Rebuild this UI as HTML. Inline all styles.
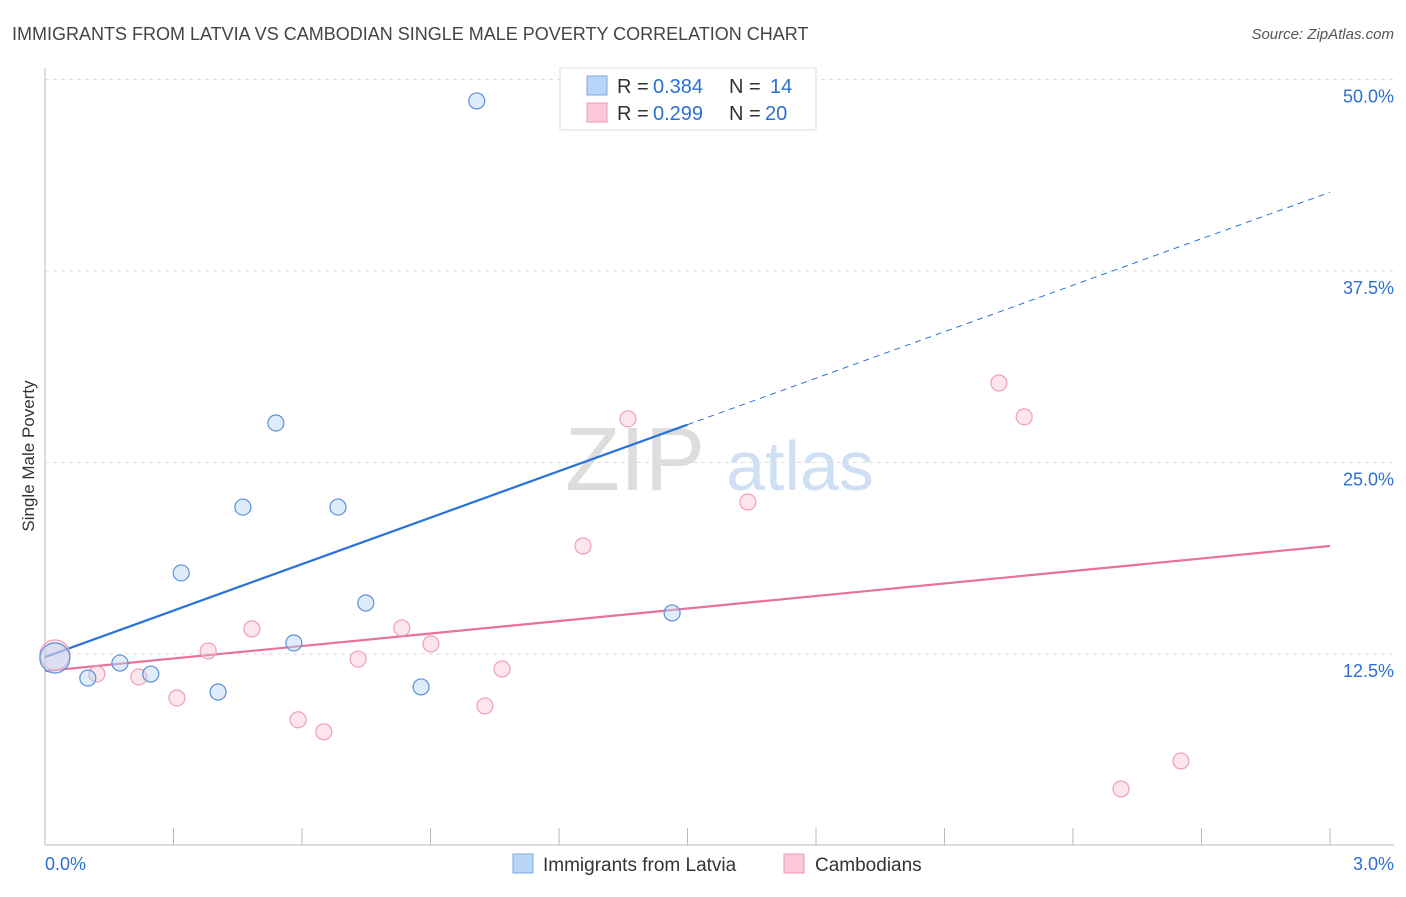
<!DOCTYPE html>
<html><head><meta charset="utf-8"><style>
body{margin:0;background:#fff;font-family:"Liberation Sans",sans-serif}
svg text{font-family:"Liberation Sans",sans-serif}
</style></head><body>
<svg id="c" width="1406" height="892">
<text x="12" y="40" font-size="18" fill="#444">IMMIGRANTS FROM LATVIA VS CAMBODIAN SINGLE MALE POVERTY CORRELATION CHART</text>
<text x="1394" y="39" font-size="15" fill="#555" text-anchor="end" font-style="italic">Source: ZipAtlas.com</text>
<text x="34" y="456" font-size="17" fill="#333" text-anchor="middle" transform="rotate(-90 34 456)">Single Male Poverty</text>
<text x="635" y="490" font-size="90" fill="#ddd" font-family="Liberation Serif" text-anchor="middle">ZIP</text>
<text x="800" y="490" font-size="70" fill="#cfe0f5" text-anchor="middle">atlas</text>
<g id="grid"></g><g id="lines"></g><g id="pts"></g>
<g>
<rect x="560" y="68" width="256" height="62" fill="#fff" stroke="#ddd"/>
<rect x="587" y="76" width="20" height="19" fill="#b8d4f7" stroke="#7aa8e6"/>
<rect x="587" y="103" width="20" height="19" fill="#fac8d6" stroke="#ee9ab3"/>
<text x="617" y="93" font-size="20" fill="#333">R =</text>
<text x="653" y="93" font-size="20" fill="#2c6fd3">0.384</text>
<text x="729" y="93" font-size="20" fill="#333">N =</text>
<text x="770" y="93" font-size="20" fill="#2c6fd3">14</text>
<text x="617" y="120" font-size="20" fill="#333">R =</text>
<text x="653" y="120" font-size="20" fill="#2c6fd3">0.299</text>
<text x="729" y="120" font-size="20" fill="#333">N =</text>
<text x="765" y="120" font-size="20" fill="#2c6fd3">20</text>
</g>
<g>
<rect x="513" y="854" width="20" height="19" fill="#b8d4f7" stroke="#7aa8e6"/>
<text x="543" y="871" font-size="19" fill="#333">Immigrants from Latvia</text>
<rect x="784" y="854" width="20" height="19" fill="#fac8d6" stroke="#ee9ab3"/>
<text x="815" y="871" font-size="19" fill="#333">Cambodians</text>
</g>
<text x="45" y="870" font-size="18" fill="#2c6fd3">0.0%</text>
<text x="1394" y="870" font-size="18" fill="#2c6fd3" text-anchor="end">3.0%</text>
</svg>
<script>
const yTicks=[12.5,25,37.5,50];
const yTickLabels=["12.5%","25.0%","37.5%","50.0%"];
const latviaX=[0.023,0.100,0.175,0.247,0.318,0.404,0.462,0.539,0.581,0.684,0.749,0.878,1.008,1.464];
const latviaY=[12.24,10.93,11.91,11.19,17.79,10.02,22.09,27.58,13.22,22.09,15.83,10.35,48.6,15.18];
const cambX=[0.023,0.121,0.219,0.308,0.381,0.483,0.591,0.651,0.731,0.833,0.901,1.027,1.067,1.256,1.361,1.641,2.227,2.286,2.512,2.652];
const cambY=[12.44,11.19,11.00,9.63,12.70,14.14,8.21,7.42,12.17,14.20,13.16,9.11,11.52,19.55,27.85,22.42,30.19,27.98,3.69,5.52];
const latviaTrend=[12.30,42.64];
const cambTrend=[11.39,19.55];
const NS="http://www.w3.org/2000/svg";
const X=v=>45+v/3*1285, Y=v=>845.5-v/12.5*191.5;
function mk(p,t,a){const e=document.createElementNS(NS,t);for(const k in a)e.setAttribute(k,a[k]);document.getElementById(p).appendChild(e);return e;}
yTicks.forEach((t,i)=>{
 const l=mk('grid','line',{x1:45,x2:1394,y1:Y(t),y2:Y(t),stroke:'#ddd','stroke-dasharray':'4,4'});
 
 
 const tx=mk('grid','text',{x:1394,y:Y(t)+23,'font-size':18,fill:'#2c6fd3','text-anchor':'end'});tx.textContent=yTickLabels[i];
 
 
});
const ax=mk('grid','line',{x1:45,x2:1394,y1:845,y2:845,stroke:'#bbb'});


const ay=mk('grid','line',{x1:45,x2:45,y1:68,y2:845,stroke:'#bbb'});


for(let i=1;i<=10;i++){const t=mk('grid','line',{x1:X(i*0.3),x2:X(i*0.3),y1:828,y2:845,stroke:'#bbb'});
 
 }
const mid=1.5, bm=latviaTrend[0]+(latviaTrend[1]-latviaTrend[0])*mid/3;
let l1=mk('lines','line',{x1:X(0),y1:Y(latviaTrend[0]),x2:X(mid),y2:Y(bm),stroke:'#2a72d8','stroke-width':2.2});


let l2=mk('lines','line',{x1:X(mid),y1:Y(bm),x2:X(3),y2:Y(latviaTrend[1]),stroke:'#2a72d8','stroke-width':1,'stroke-dasharray':'6,5'});


let l3=mk('lines','line',{x1:X(0),y1:Y(cambTrend[0]),x2:X(3),y2:Y(cambTrend[1]),stroke:'#e8729a','stroke-width':2.2});


cambX.forEach((x,i)=>{const c=mk('pts','circle',{cx:X(x),cy:Y(cambY[i]),r:i==0?15:8,fill:'rgba(248,190,208,0.4)',stroke:'#ef9fb8','stroke-width':1.2});
 
 });
latviaX.forEach((x,i)=>{const c=mk('pts','circle',{cx:X(x),cy:Y(latviaY[i]),r:i==0?15:8,fill:'rgba(184,212,247,0.45)',stroke:'#5b8fd8','stroke-width':1.2});
 
 });
</script>
</body></html>
